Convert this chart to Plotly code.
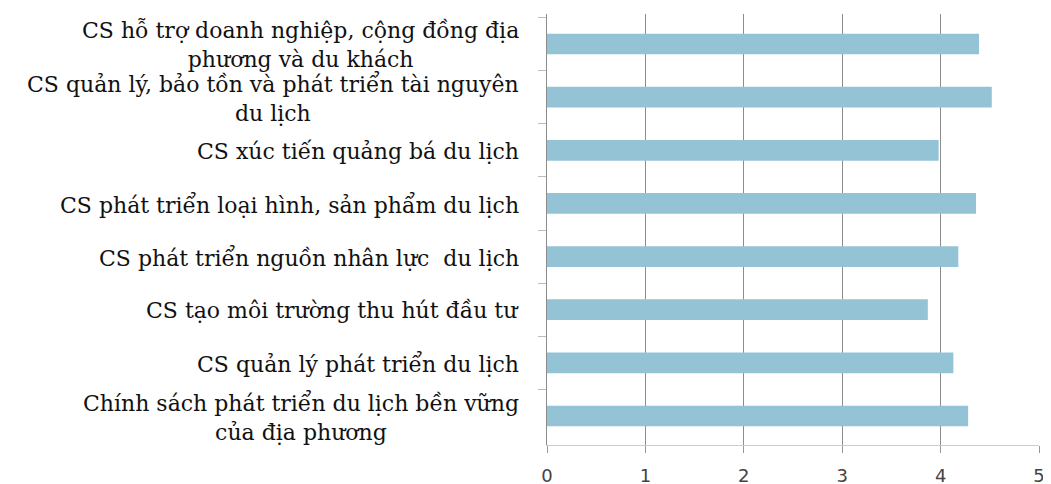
import plotly.graph_objects as go

# các chính sách (từ trên xuống dưới)
chinh_sach = [
    "CS hỗ trợ doanh nghiệp, cộng đồng địa<br>phương và du khách",
    "CS quản lý, bảo tồn và phát triển tài nguyên<br>du lịch",
    "CS xúc tiến quảng bá du lịch",
    "CS phát triển loại hình, sản phẩm du lịch",
    "CS phát triển nguồn nhân lực  du lịch",
    "CS tạo môi trường thu hút đầu tư",
    "CS quản lý phát triển du lịch",
    "Chính sách phát triển du lịch bền vững<br>của địa phương",
]
diem_tb = [4.39, 4.52, 3.98, 4.36, 4.18, 3.87, 4.13, 4.28]
x_ticks = [0, 1, 2, 3, 4, 5]

fig = go.Figure()
fig.add_trace(go.Bar(
    x=diem_tb, y=chinh_sach, orientation="h", width=0.39,
    marker=dict(color="#93c3d5", line=dict(width=0)),
))

# nhãn danh mục (các dòng căn giữa, khối căn phải sát trục)
for txt in chinh_sach:
    fig.add_annotation(
        x=0, xref="paper", y=txt, yref="y", text=txt, showarrow=False,
        xanchor="right", align="center", xshift=-26, yshift=-1,
        font=dict(family="DejaVu Serif", size=22, color="#111"),
    )

fig.update_xaxes(
    range=[0, 5], tickvals=x_ticks, showgrid=True, gridcolor="#8c8c8c", gridwidth=1,
    zeroline=False, showline=True, linecolor="#cccccc", linewidth=1,
    ticks="outside", ticklen=7, tickcolor="#999999", ticklabelstandoff=7,
    tickfont=dict(family="DejaVu Sans", size=18, color="#444"),
)
fig.update_yaxes(
    type="category", autorange="reversed", showticklabels=False, tickson="boundaries",
    ticks="outside", ticklen=8, tickcolor="#bbbbbb", showgrid=False,
    showline=True, linecolor="#8c8c8c", linewidth=1, zeroline=False,
)
fig.update_layout(
    width=1051, height=484, plot_bgcolor="white", paper_bgcolor="white",
    margin=dict(l=539, r=20, t=6, b=47), showlegend=False,
)
fig.write_html("out.html")
